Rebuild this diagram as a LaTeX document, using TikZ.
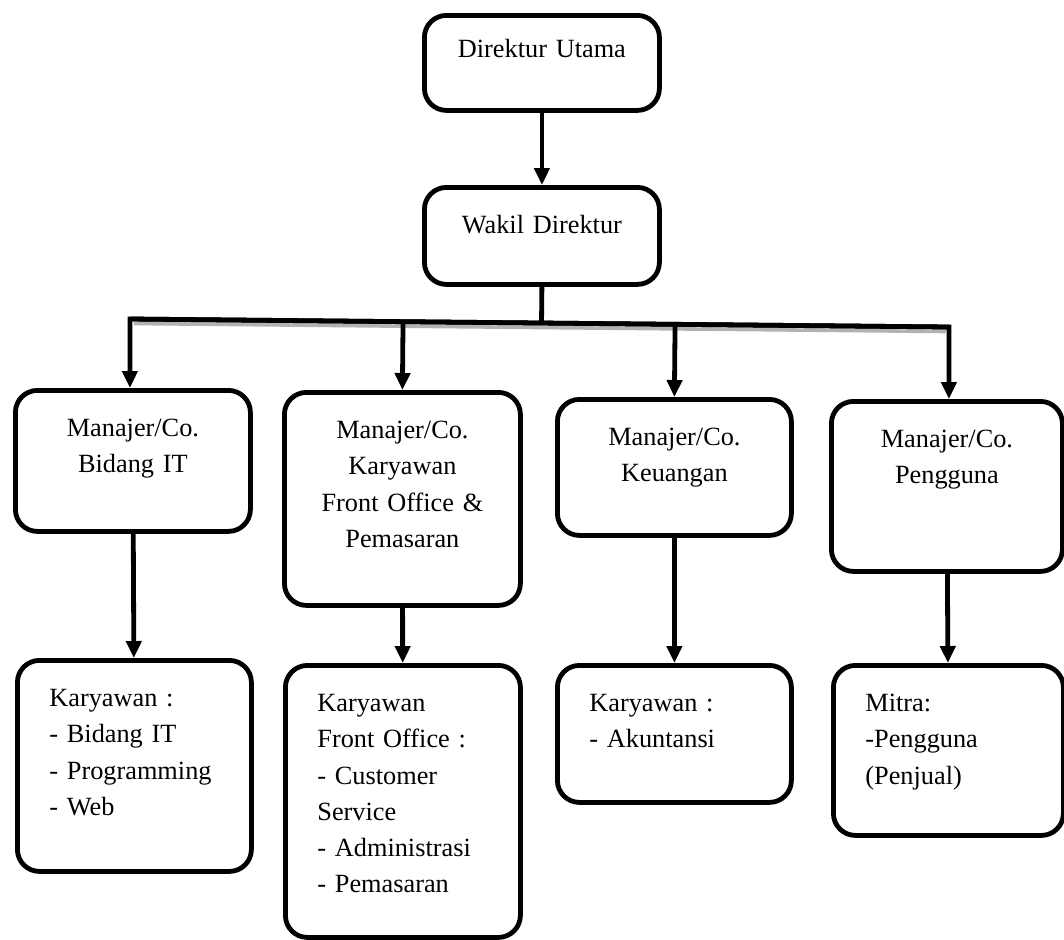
\documentclass[tikz,border=0pt]{standalone}
\usepackage{fontspec}
\setmainfont{Liberation Serif}
\usepackage{tikz}
\usetikzlibrary{calc,positioning,arrows.meta}
\tikzset{
    >={Triangle[width=7.5pt,length=8.5pt]},
    kotak/.style={
        rectangle,
        rounded corners=11pt,
        draw=black, line width=2.4pt,
        text width=85.5pt,
        inner xsep=16pt,
        inner ysep=0pt,
        text height=23pt,
        anchor=north west,
        font=\fontsize{13.15pt}{18.15pt}\selectfont
    },
    tengah/.style={kotak, align=center},
    kiri/.style={kotak, align=left},
    garis/.style={draw, line width=2.4pt}
}

\begin{document}
\begin{tikzpicture}[
            x=0.5pt, y=-0.5pt,
            bayangan/.style={draw=gray!60, line width=1.8pt}]
    \useasboundingbox (0,0) rectangle (1064,939);

    \node[tengah, text height=21pt, text depth=26.5pt] (dirut) at (422,13) {Direktur Utama};
    \node[tengah, text depth=25.5pt] (wakil) at (422,185) {Wakil Direktur};

    \node[tengah, text depth=47.5pt] (M1) at (13,388) {Manajer/Co.\\Bidang IT};
    \node[tengah, text width=86pt, text depth=83.5pt] (M2) at (282,390) {Manajer/Co.\\Karyawan\\Front Office \&\\Pemasaran};
    \node[tengah, text width=85pt, text depth=45pt] (M3) at (555,397) {Manajer/Co.\\Keuangan};
    \node[tengah, text width=83.5pt, text depth=62pt] (M4) at (829,399) {Manajer/Co.\\Pengguna};

    \node[kiri, text width=85pt, text depth=82.5pt] (K1) at (15,658) {Karyawan :\\- Bidang IT\\- Programming\\- Web};
    \node[kiri, text depth=113pt] (K2) at (283,663) {Karyawan\\Front Office :\\- Customer\\Service\\- Administrasi\\- Pemasaran};
    \node[kiri, text width=85pt, text depth=45.5pt] (K3) at (555,663) {Karyawan :\\- Akuntansi};
    \node[kiri, text width=83pt, text depth=62pt] (K4) at (831,663) {Mitra:\\-Pengguna\\(Penjual)};

    \coordinate (busL) at ($(M1.north)+(-3,-69)$);
    \coordinate (busR) at ($(M4.north)+(2,-72)$);
    \coordinate (busW) at ($(busL)!(wakil.south)!(busR)$);

    \draw[bayangan] ($(busL)+(4,4.5)$) -- ($(busR)+(-3,4.5)$);
    \draw[garis,->] (dirut) -- (wakil);
    \draw[garis] (wakil.south) -- (busW);
    \draw[garis,->] (busR) -- (busL) -- (busL |- M1.north);
    \draw[garis,->] (busL) -- (busR) -- (busR |- M4.north);
    \draw[garis,->] ($(busL)!(M2.north)!(busR)$) -- (M2.north);
    \draw[garis,->] ($(busL)!(M3.north)!(busR)$) -- (M3.north);

    \draw[garis,->] (M1) -- (K1);
    \draw[garis,->] (M2) -- (K2);
    \draw[garis,->] (M3) -- (K3);
    \draw[garis,->] (M4) -- (K4);
\end{tikzpicture}
\end{document}
